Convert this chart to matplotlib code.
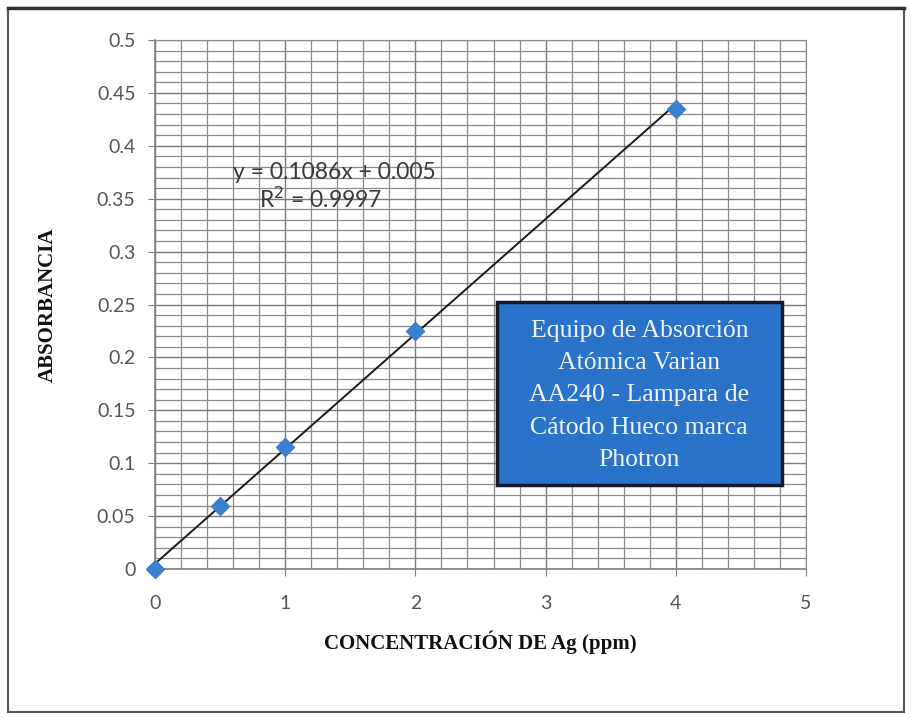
import matplotlib
matplotlib.use("Agg")
import matplotlib.pyplot as plt
from matplotlib.patches import Rectangle
from matplotlib.ticker import MultipleLocator
import numpy as np

# Calibration data: silver concentration vs absorbance
conc_ppm = [0, 0.5, 1, 2, 4]
absorbance = [0.0, 0.0595, 0.115, 0.225, 0.435]

# Linear trendline reported on the chart
slope = 0.1086
intercept = 0.005
r_squared = 0.9997

x_ticks = [0, 1, 2, 3, 4, 5]
y_ticks = [0, 0.05, 0.1, 0.15, 0.2, 0.25, 0.3, 0.35, 0.4, 0.45, 0.5]

box_lines = ["Equipo de Absorción", "Atómica Varian", "AA240 - Lampara de",
             "Cátodo Hueco marca", "Photron"]

fig = plt.figure(figsize=(9.12, 7.18), dpi=100)
fig.patch.set_facecolor("white")

# outer frame of the chart area
fig.patches.append(Rectangle((8 / 912, 6 / 718), 896 / 912, 704 / 718,
                             transform=fig.transFigure, fill=False,
                             edgecolor="#555555", linewidth=1.5))
fig.add_artist(plt.Line2D([8 / 912, 904 / 912], [710 / 718, 710 / 718],
                          transform=fig.transFigure, color="#333333", linewidth=2.5))

ax = fig.add_axes([155 / 912, 1 - 569 / 718, 651 / 912, 529 / 718])
ax.set_xlim(0, 5)
ax.set_ylim(0, 0.5)

ax.xaxis.set_minor_locator(MultipleLocator(0.2))
ax.yaxis.set_minor_locator(MultipleLocator(0.01))
ax.set_xticks(x_ticks)
ax.set_yticks(y_ticks)
ax.set_xticklabels([str(t) for t in x_ticks])
ax.set_yticklabels([("%g" % t) for t in y_ticks])

ax.grid(which="major", color="#7a7a7a", linewidth=1.0)
ax.grid(which="minor", color="#8c8c8c", linewidth=0.9)
ax.set_axisbelow(True)

for side in ["top", "right"]:
    ax.spines[side].set_color("#8c8c8c")
for side in ["left", "bottom"]:
    ax.spines[side].set_color("#808080")
    ax.spines[side].set_linewidth(1.2)

ax.tick_params(which="major", direction="out", length=5, color="#808080",
               labelsize=14, labelcolor="#555555")
ax.tick_params(axis="x", pad=14)
ax.tick_params(axis="y", pad=9)
ax.tick_params(which="minor", length=0)
for lab in ax.get_xticklabels() + ax.get_yticklabels():
    lab.set_family("Lato")

# trendline
xf = np.array([min(conc_ppm), max(conc_ppm)])
ax.plot(xf, slope * xf + intercept, color="#1a1a1a", linewidth=1.4, zorder=3)

# data points
ax.plot(conc_ppm, absorbance, linestyle="none", marker="D", markersize=9,
        color="#3a7fd0", markeredgecolor="#3a7fd0", zorder=4, clip_on=False)

# trendline equation
ax.text(1.38, 0.375, "y = %.4fx + %.3f" % (slope, intercept), ha="center",
        va="center", fontsize=16.5, color="#3a3a3a", family="Lato")
ax.text(1.27, 0.349, "R$^2$ = %.4f" % r_squared, ha="center", va="center",
        fontsize=16.5, color="#3a3a3a", family="Lato")

# instrument note box
bx0, by0, bx1, by1 = 0.525, 0.159, 0.963, 0.505
ax.add_patch(Rectangle((bx0, by0), bx1 - bx0, by1 - by0, transform=ax.transAxes,
                       facecolor="#2a73c8", edgecolor="#151a2a", linewidth=2.5,
                       zorder=5))
ax.text((bx0 + bx1) / 2, (by0 + by1) / 2 - 0.004, "\n".join(box_lines),
        transform=ax.transAxes, ha="center", va="center", fontsize=18.5,
        linespacing=1.6, color="#eef3fa", family="Liberation Serif", zorder=6)

ax.set_xlabel("CONCENTRACIÓN DE Ag (ppm)", family="Liberation Serif",
              fontweight="bold", fontsize=15, color="#111111", labelpad=13)
ax.set_ylabel("ABSORBANCIA", family="Liberation Serif", fontweight="bold",
              fontsize=15, color="#111111", labelpad=28)

fig.savefig("out.png", dpi=100)
